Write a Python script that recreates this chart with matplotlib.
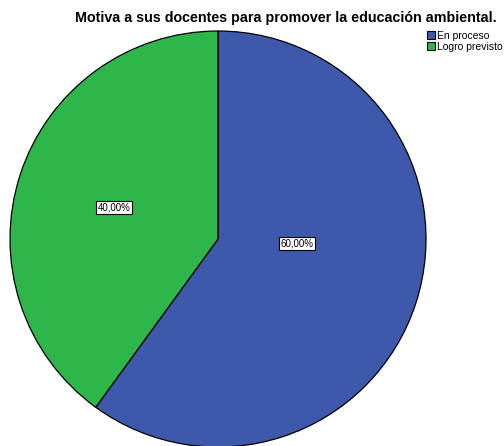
import matplotlib
matplotlib.use("Agg")
import matplotlib.pyplot as plt
from matplotlib.patches import Patch

categories = ["En proceso", "Logro previsto"]
values = [60.0, 40.0]
labels = ["60,00%", "40,00%"]
colors = ["#3E58AC", "#2EB64A"]
title = "Motiva a sus docentes para promover la educación ambiental."

W, H = 504, 446
fig = plt.figure(figsize=(W / 100, H / 100), dpi=100)
cx, cy, r = 218, 239, 208
ax = fig.add_axes([(cx - r) / W, (H - cy - r) / H, 2 * r / W, 2 * r / H])

wedges, _ = ax.pie(values, colors=colors, startangle=90, counterclock=False,
                   radius=1, wedgeprops=dict(edgecolor="black", linewidth=0.9))
ax.set_aspect("auto")
ax.set_xlim(-1, 1)
ax.set_ylim(-1, 1)
ax.axis("off")
for w in wedges:
    w.set_clip_on(False)

label_pos = [(0.38, -0.02), (-0.50, 0.15)]
for (x, y), t in zip(label_pos, labels):
    ax.text(x, y, t, ha="center", va="center", fontsize=7, family="Liberation Sans",
            bbox=dict(boxstyle="square,pad=0.15", fc="white", ec="black", lw=0.8))

fig.text(286 / W, 1 - 18 / H, title, ha="center", va="center", fontsize=10.3,
         fontweight="bold", family="Liberation Sans")

handles = [Patch(facecolor=c, edgecolor="black", linewidth=0.8) for c in colors]
fig.legend(handles, categories, loc="upper left", bbox_to_anchor=(426 / W, 1 - 30 / H),
           frameon=False, prop={"family": "Liberation Sans", "size": 7.5},
           handlelength=0.8, handleheight=0.8, handletextpad=0.2, labelspacing=0.05,
           borderpad=0.1, borderaxespad=0)

fig.savefig("out.png", dpi=100)
